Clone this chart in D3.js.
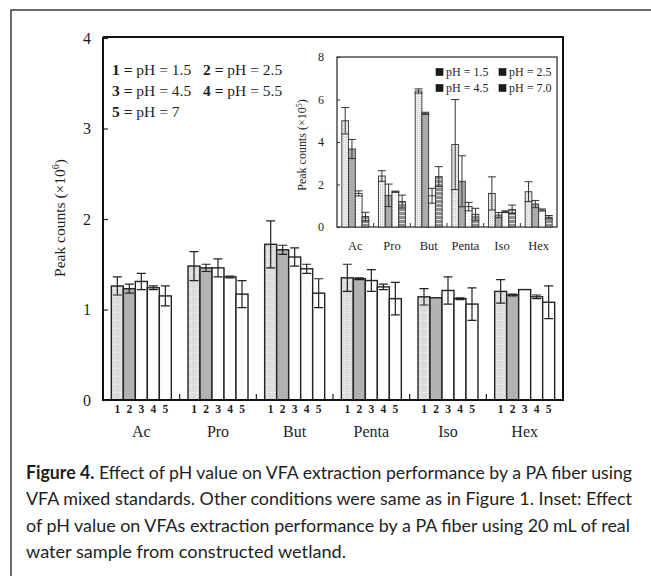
<!DOCTYPE html>
<html>
<head>
<meta charset="utf-8">
<title>pH effect</title>
<script src="https://d3js.org/d3.v7.min.js"></script>
<style>
  body { margin: 0; background: #fff; }
  text { fill: #1e1e1e; }
</style>
</head>
<body>
<svg width="651" height="576" id="mainsvg"></svg>
<script>
// main chart (x10^6) - five pH levels per acid
const acids = ['Ac', 'Pro', 'But', 'Penta', 'Iso', 'Hex'];
const phCodes = ['1', '2', '3', '4', '5'];
const mainMeans = [
    [1.26, 1.23, 1.31, 1.24, 1.15],
    [1.48, 1.46, 1.46, 1.36, 1.17],
    [1.72, 1.66, 1.58, 1.45, 1.18],
    [1.35, 1.34, 1.32, 1.25, 1.12],
    [1.14, 1.13, 1.21, 1.12, 1.06],
    [1.20, 1.16, 1.22, 1.14, 1.08]
];
const mainErrs = [
    [0.10, 0.05, 0.09, 0.02, 0.11],
    [0.16, 0.04, 0.10, 0.01, 0.15],
    [0.26, 0.05, 0.10, 0.05, 0.16],
    [0.15, 0.01, 0.12, 0.03, 0.18],
    [0.09, 0.00, 0.15, 0.01, 0.18],
    [0.13, 0.01, 0.00, 0.02, 0.18]
];
const mainTicks = [0, 1, 2, 3, 4];
const mainLegend = [
    [['1 =', 'pH = 1.5'], ['2 =', 'pH = 2.5']],
    [['3 =', 'pH = 4.5'], ['4 =', 'pH = 5.5']],
    [['5 =', 'pH = 7']]
];

// inset (x10^5) - real water sample
const insetPh = ['pH = 1.5', 'pH = 2.5', 'pH = 4.5', 'pH = 7.0'];
const insetMeans = [
    [5.00, 3.67, 1.58, 0.49],
    [2.40, 1.49, 1.66, 1.20],
    [6.40, 5.35, 1.47, 2.37],
    [3.88, 2.15, 0.96, 0.60],
    [1.58, 0.56, 0.72, 0.83],
    [1.66, 1.08, 0.80, 0.46]
];
const insetErrs = [
    [0.62, 0.45, 0.12, 0.20],
    [0.25, 0.53, 0.03, 0.30],
    [0.10, 0.05, 0.35, 0.47],
    [2.12, 1.20, 0.20, 0.28],
    [0.78, 0.12, 0.04, 0.20],
    [0.47, 0.17, 0.05, 0.08]
];
const insetTicks = [0, 2, 4, 6, 8];

const captionLines = [
    ['Figure 4.', ' Effect of pH value on VFA extraction performance by a PA fiber using'],
    ['', 'VFA mixed standards. Other conditions were same as in Figure 1. Inset: Effect'],
    ['', 'of pH value on VFAs extraction performance by a PA fiber using 20 mL of real'],
    ['', 'water sample from constructed wetland.']
];

const svg = d3.select('#mainsvg');
const serif = "'Liberation Serif', 'Times New Roman', serif";
const sans = "Lato, 'Liberation Sans', sans-serif";

// ---- fill patterns ----
const defs = svg.append('defs');
const m1 = defs.append('pattern').attr('id', 'm1').attr('patternUnits', 'userSpaceOnUse')
    .attr('width', 6).attr('height', 8);
m1.append('rect').attr('width', 6).attr('height', 8).attr('fill', '#dadada');
m1.append('path').attr('d', 'M0,0.5H6M3,0V8').attr('stroke', '#f4f4f4').attr('stroke-width', 0.8)
    .attr('stroke-dasharray', '1.5,1');
const m2 = defs.append('pattern').attr('id', 'm2').attr('patternUnits', 'userSpaceOnUse')
    .attr('width', 2).attr('height', 2);
m2.append('rect').attr('width', 2).attr('height', 2).attr('fill', '#b8b8b8');
m2.append('rect').attr('width', 1).attr('height', 1).attr('fill', '#acacac');
m2.append('rect').attr('x', 1).attr('y', 1).attr('width', 1).attr('height', 1).attr('fill', '#acacac');

const i1 = defs.append('pattern').attr('id', 'i1').attr('patternUnits', 'userSpaceOnUse')
    .attr('width', 2).attr('height', 2);
i1.append('rect').attr('width', 2).attr('height', 2).attr('fill', '#f0f0f0');
i1.append('rect').attr('width', 1).attr('height', 1).attr('fill', '#c4c4c4');
const i3 = defs.append('pattern').attr('id', 'i3').attr('patternUnits', 'userSpaceOnUse')
    .attr('width', 3).attr('height', 3);
i3.append('rect').attr('width', 3).attr('height', 3).attr('fill', '#fbfbfb');
i3.append('rect').attr('width', 1).attr('height', 1).attr('fill', '#dcdcdc');
const i4 = defs.append('pattern').attr('id', 'i4').attr('patternUnits', 'userSpaceOnUse')
    .attr('width', 4).attr('height', 4);
i4.append('rect').attr('width', 4).attr('height', 4).attr('fill', '#8e8e8e');
i4.append('rect').attr('y', 3).attr('width', 4).attr('height', 1).attr('fill', '#e0e0e0');

const mainFills = ['url(#m1)', 'url(#m2)', '#fdfdfd', '#fdfdfd', '#fdfdfd'];
const insetFills = ['url(#i1)', '#ababab', 'url(#i3)', 'url(#i4)'];

// outer frame (only top and left show)
svg.append('rect').attr('x', 11).attr('y', 10).attr('width', 700).attr('height', 700)
    .attr('fill', 'none').attr('stroke', '#3a3a3a').attr('stroke-width', 1.5);

// ---- main chart ----
const xMain = d3.scaleBand().domain(acids).range([103, 563]);
const yMain = d3.scaleLinear().domain([0, 4]).range([400, 38]);
const xSub = d3.scaleBand().domain(phCodes).range([-30, 30]);

const gMain = svg.append('g');
acids.forEach((a, i) => {
    const cx = xMain(a) + xMain.bandwidth() / 2;
    const grp = gMain.append('g').attr('transform', `translate(${cx},0)`);
    phCodes.forEach((p, j) => {
        const v = mainMeans[i][j], e = mainErrs[i][j];
        const bx = xSub(p);
        grp.append('rect')
            .attr('x', bx).attr('y', yMain(v))
            .attr('width', xSub.bandwidth()).attr('height', yMain(0) - yMain(v))
            .attr('fill', mainFills[j]).attr('stroke', '#222').attr('stroke-width', 1.4);
        if (e > 0) {
            const mx = bx + xSub.bandwidth() / 2;
            grp.append('path')
                .attr('d', `M${mx - 4.5},${yMain(v + e)}H${mx + 4.5}M${mx},${yMain(v + e)}V${yMain(v - e)}M${mx - 4.5},${yMain(v - e)}H${mx + 4.5}`)
                .attr('stroke', '#222').attr('stroke-width', 1.2).attr('fill', 'none');
        }
        grp.append('text')
            .attr('x', bx + xSub.bandwidth() / 2).attr('y', 413)
            .attr('text-anchor', 'middle').attr('font-family', serif)
            .attr('font-weight', 'bold').attr('font-size', 11.5).text(p);
    });
});

// frame of main plot
gMain.append('path').attr('d', 'M103,37V400H563V37H103')
    .attr('fill', 'none').attr('stroke', '#111').attr('stroke-width', 2);

// y axis (ticks inward)
const yAxisMain = d3.axisLeft(yMain).tickValues(mainTicks).tickSize(-5).tickPadding(12)
    .tickFormat(d3.format('d'));
const yg = svg.append('g').attr('transform', 'translate(103,0)').call(yAxisMain);
yg.select('.domain').remove();
yg.selectAll('line').attr('stroke', '#222').attr('stroke-width', 1.2);
yg.selectAll('text').attr('font-family', serif).attr('font-size', 16).attr('fill', '#1e1e1e');

// x axis category labels + boundary ticks
const xAxisMain = d3.axisBottom(xMain).tickSize(0).tickPadding(26);
const xg = svg.append('g').attr('transform', 'translate(0,400)').call(xAxisMain);
xg.select('.domain').remove();
xg.selectAll('text').attr('font-family', serif).attr('font-size', 16).attr('fill', '#1e1e1e');
gMain.selectAll('.bnd').data(acids.slice(1)).join('line')
    .attr('x1', d => xMain(d)).attr('x2', d => xMain(d))
    .attr('y1', 400).attr('y2', 394).attr('stroke', '#222').attr('stroke-width', 1.2);

// y label
svg.append('text')
    .attr('transform', 'translate(65,218) rotate(-90)')
    .attr('text-anchor', 'middle').attr('font-family', serif).attr('font-size', 15.5)
    .call(t => {
        t.append('tspan').text('Peak counts (×10');
        t.append('tspan').attr('dy', -6).attr('font-size', 10).text('6');
        t.append('tspan').attr('dy', 6).text(')');
    });

// legend of main plot
mainLegend.forEach((row, r) => {
    row.forEach((item, c) => {
        const t = svg.append('text')
            .attr('x', 112 + c * 91).attr('y', 75 + r * 21)
            .attr('font-family', serif).attr('font-size', 15.5);
        t.append('tspan').attr('font-weight', 'bold').text(item[0] + ' ');
        t.append('tspan').text(item[1]);
    });
});

// ---- inset ----
const xIn = d3.scaleBand().domain(acids).range([337, 557]);
const yIn = d3.scaleLinear().domain([0, 8]).range([227, 57]);
const xInSub = d3.scaleBand().domain(insetPh).range([-13.5, 13.5]);

const gIn = svg.append('g');
gIn.append('rect').attr('x', 337).attr('y', 57).attr('width', 220).attr('height', 170)
    .attr('fill', '#fff').attr('stroke', '#222').attr('stroke-width', 1.2);

acids.forEach((a, i) => {
    const cx = xIn(a) + xIn.bandwidth() / 2;
    const grp = gIn.append('g').attr('transform', `translate(${cx},0)`);
    insetPh.forEach((p, j) => {
        const v = insetMeans[i][j], e = insetErrs[i][j];
        const bx = xInSub(p);
        grp.append('rect')
            .attr('x', bx).attr('y', yIn(v))
            .attr('width', xInSub.bandwidth()).attr('height', yIn(0) - yIn(v))
            .attr('fill', insetFills[j]).attr('stroke', '#333').attr('stroke-width', 0.9);
        const mx = bx + xInSub.bandwidth() / 2;
        grp.append('path')
            .attr('d', `M${mx - 4},${yIn(v + e)}H${mx + 4}M${mx},${yIn(v + e)}V${yIn(Math.max(v - e, 0))}M${mx - 4},${yIn(Math.max(v - e, 0))}H${mx + 4}`)
            .attr('stroke', '#333').attr('stroke-width', 1).attr('fill', 'none');
    });
});

const yAxisIn = d3.axisLeft(yIn).tickValues(insetTicks).tickSize(-3).tickPadding(13);
const yig = svg.append('g').attr('transform', 'translate(337,0)').call(yAxisIn);
yig.select('.domain').remove();
yig.selectAll('line').attr('stroke', '#333');
yig.selectAll('text').attr('font-family', serif).attr('font-size', 12).attr('fill', '#1e1e1e');

const xAxisIn = d3.axisBottom(xIn).tickSize(0).tickPadding(14);
const xig = svg.append('g').attr('transform', 'translate(0,227)').call(xAxisIn);
xig.select('.domain').remove();
xig.selectAll('text').attr('font-family', serif).attr('font-size', 12.5).attr('fill', '#1e1e1e');
gIn.selectAll('.bnd').data(acids.slice(1)).join('line')
    .attr('x1', d => xIn(d)).attr('x2', d => xIn(d))
    .attr('y1', 227).attr('y2', 223).attr('stroke', '#333');

svg.append('text')
    .attr('transform', 'translate(306,145) rotate(-90)')
    .attr('text-anchor', 'middle').attr('font-family', serif).attr('font-size', 12)
    .call(t => {
        t.append('tspan').text('Peak counts (×10');
        t.append('tspan').attr('dy', -4).attr('font-size', 8).text('5');
        t.append('tspan').attr('dy', 4).text(')');
    });

// inset legend
insetPh.forEach((p, j) => {
    const lx = 436 + (j % 2) * 63, ly = 72 + Math.floor(j / 2) * 16;
    svg.append('rect').attr('x', lx).attr('y', ly - 3.5).attr('width', 7).attr('height', 7)
        .attr('fill', '#1c1c1c').attr('stroke', '#111').attr('stroke-width', 0.6);
    svg.append('text').attr('x', lx + 10).attr('y', ly + 4)
        .attr('font-family', serif).attr('font-size', 12).text(p);
});

// ---- caption ----
const capLens = [606, 606, 604, 320];
captionLines.forEach((line, k) => {
    const t = svg.append('text')
        .attr('x', 26).attr('y', 479 + k * 26.3)
        .attr('font-family', sans).attr('font-size', 18)
        .attr('textLength', capLens[k]).attr('lengthAdjust', 'spacingAndGlyphs');
    if (line[0]) t.append('tspan').attr('font-weight', 'bold').text(line[0]);
    t.append('tspan').text(line[1]);
});
</script>
</body>
</html>
